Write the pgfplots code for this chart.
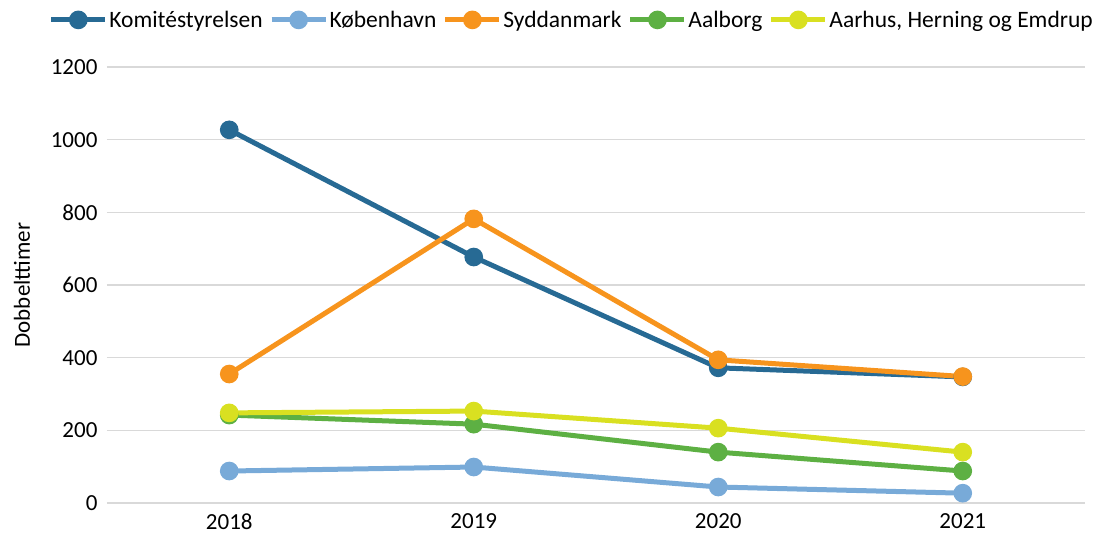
\documentclass[border=0pt]{standalone}
\usepackage{fontspec}
\setmainfont{Carlito}
\usepackage{pgfplots}
\pgfplotsset{compat=1.18}
\definecolor{cKom}{HTML}{276A94}
\definecolor{cKbh}{HTML}{78AAD8}
\definecolor{cSyd}{HTML}{F7941D}
\definecolor{cAal}{HTML}{5DB043}
\definecolor{cAar}{HTML}{D9E021}
\begin{document}
\begin{tikzpicture}
\begin{axis}[
  at={(0pt,0pt)}, anchor=south west,
  scale only axis, width=978pt, height=436pt,
  xmin=-0.5, xmax=3.5, ymin=0, ymax=1200,
  xtick={0,1,2,3}, xticklabels={2018,2019,2020,2021},
  ytick={0,200,...,1200},
  ymajorgrids, grid style={color=black!15, line width=1.5pt},
  axis line style={draw=none}, major tick length=0pt,
  tick label style={font=\fontsize{23}{27}\selectfont},
  /pgf/number format/assume math mode=true,
  /pgf/number format/1000 sep={},
  yticklabel style={xshift=-6pt},
  xticklabel style={yshift=-7pt},
  ylabel={Dobbelttimer},
  ylabel style={font=\fontsize{23}{27}\selectfont, at={(axis description cs:-0.087,0.5)}, anchor=center},
  legend columns=5,
  legend style={draw=none, fill=none, font=\fontsize{23.5}{27}\selectfont,
    at={(0.475,1.108)}, anchor=center,
    /tikz/every even column/.append style={column sep=5pt},
    inner sep=0pt, nodes={inner sep=1.5pt}},
  legend image code/.code={\draw[mark repeat=2,mark phase=2] plot coordinates {(0pt,0pt) (27pt,0pt) (54pt,0pt)};},
  every axis plot/.append style={line width=5pt, mark=*, mark size=6.8pt, mark options={solid}},
]
\addplot[color=cKom] coordinates {(0,1027) (1,677) (2,372) (3,347)};
\addplot[color=cKbh] coordinates {(0,88) (1,99) (2,44) (3,27)};
\addplot[color=cSyd] coordinates {(0,355) (1,782) (2,394) (3,348)};
\addplot[color=cAal] coordinates {(0,242) (1,217) (2,140) (3,88)};
\addplot[color=cAar] coordinates {(0,248) (1,253) (2,206) (3,140)};
\legend{Komitéstyrelsen, København, Syddanmark, Aalborg, {Aarhus, Herning og Emdrup}}
\end{axis}
\pgfresetboundingbox
\path[use as bounding box] (-107pt,-42pt) rectangle (998pt,503pt);
\end{tikzpicture}
\end{document}
